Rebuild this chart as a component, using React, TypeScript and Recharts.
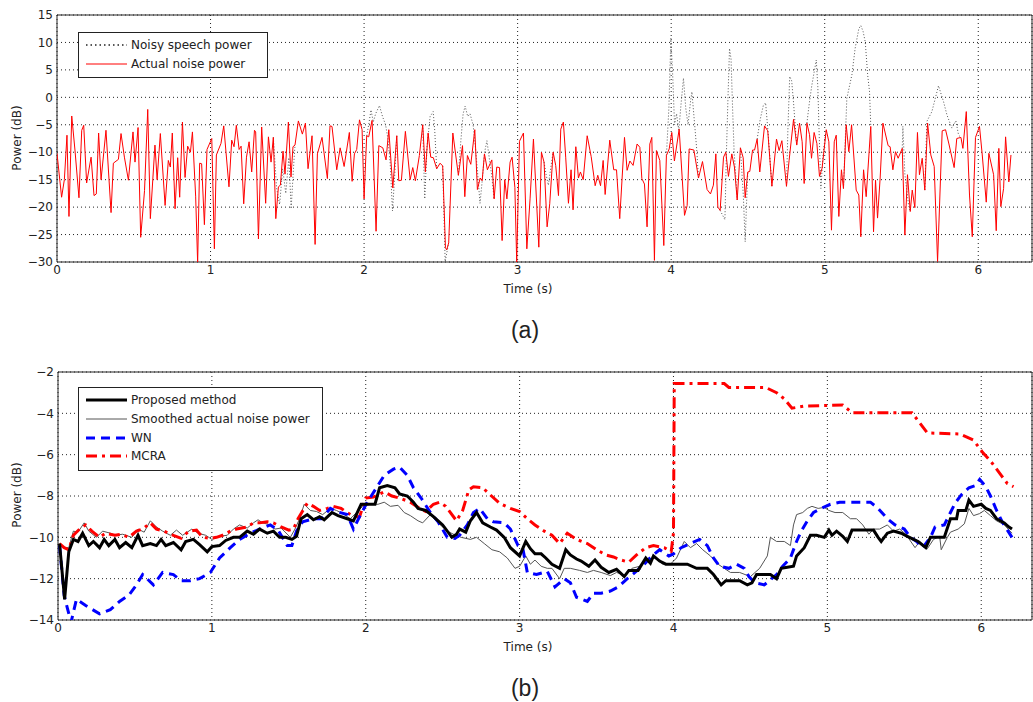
import { LineChart, Line, XAxis, YAxis, CartesianGrid, ReferenceArea } from 'recharts'

type Pt = [number, number | null]

const timeTicks = [0, 1, 2, 3, 4, 5, 6]
const powerTicksA = [15, 10, 5, 0, -5, -10, -15, -20, -25, -30]
const powerTicksB = [-2, -4, -6, -8, -10, -12, -14]

// (a) actual noise power, dB
const actualNoise: Pt[] = [
  [0, -10.2], [0.03, -18.2], [0.048, -15], [0.065, -6.9], [0.078, -21.7], [0.096, -3.4], [0.117, -9.6],
  [0.143, -18.3], [0.161, -6], [0.174, -5.1], [0.193, -15.6], [0.222, -10.9], [0.241, -17.9], [0.256, -17.6],
  [0.271, -6.5], [0.287, -15], [0.319, -6], [0.352, -21], [0.367, -12], [0.4, -11.3], [0.417, -6.6],
  [0.439, -10.9], [0.465, -15.1], [0.495, -6.3], [0.508, -11.8], [0.528, -5.5], [0.545, -25.5], [0.57, -17],
  [0.591, -2.2], [0.608, -22.1], [0.638, -8.7], [0.652, -15], [0.673, -6.6], [0.704, -19.7], [0.725, -11.5],
  [0.738, -12.7], [0.751, -6.5], [0.769, -20.3], [0.786, -11], [0.799, -18.2], [0.817, -4.5], [0.834, -14.6],
  [0.851, -8.9], [0.869, -10], [0.882, -6.3], [0.903, -18], [0.916, -30.2], [0.929, -12], [0.942, -12.1],
  [0.96, -23.2], [0.977, -9.5], [1.008, -7.5], [1.025, -27.6], [1.038, -10.5], [1.068, -8.4], [1.086, -5.2],
  [1.12, -16.3], [1.138, -7.8], [1.153, -9], [1.168, -5.1], [1.186, -9.5], [1.199, -8.9], [1.216, -19.4],
  [1.234, -10.9], [1.251, -8.1], [1.268, -13.6], [1.286, -6], [1.294, -6.3], [1.312, -25.8], [1.333, -5.4],
  [1.359, -19.3], [1.377, -7.2], [1.394, -11.8], [1.409, -7.3], [1.425, -22.1], [1.442, -16.3], [1.455, -16],
  [1.472, -9.8], [1.485, -14], [1.507, -4.5], [1.524, -14.5], [1.537, -9], [1.55, -8.7], [1.572, -4.3],
  [1.598, -6.7], [1.618, -4.7], [1.635, -13], [1.661, -7], [1.681, -26.8], [1.696, -10.3], [1.726, -7.3],
  [1.761, -14.8], [1.778, -5.2], [1.791, -5.3], [1.822, -13.2], [1.844, -9.2], [1.87, -12.6], [1.904, -6.4],
  [1.922, -15.3], [1.937, -10.3], [1.952, -9.5], [1.97, -4.1], [1.987, -5.9], [2.0, -18.5], [2.017, -7],
  [2.03, -7.2], [2.052, -4.2], [2.078, -24.4], [2.096, -8.8], [2.122, -9.2], [2.143, -11.4], [2.161, -5.9],
  [2.187, -16.5], [2.213, -7], [2.226, -15.2], [2.243, -15.1], [2.269, -6.2], [2.3, -15], [2.317, -12.8],
  [2.334, -15.2], [2.36, -10.6], [2.382, -5], [2.399, -13.6], [2.417, -6.5], [2.434, -10.9], [2.451, -11],
  [2.473, -13], [2.495, -12], [2.512, -12.5], [2.53, -27.4], [2.538, -27.8], [2.551, -26.5], [2.578, -6.5],
  [2.614, -14.2], [2.641, -8.8], [2.656, -18.1], [2.673, -10.6], [2.695, -12.2], [2.721, -5.9], [2.738, -16.8],
  [2.756, -14.7], [2.769, -15.2], [2.784, -10.3], [2.803, -13.2], [2.832, -11.4], [2.847, -18.5], [2.864, -12.7],
  [2.882, -12.8], [2.899, -26.1], [2.916, -15], [2.93, -18.5], [2.951, -11.8], [2.964, -10.9], [2.982, -16.4],
  [2.994, -30], [3.012, -8], [3.038, -6.5], [3.06, -27.6], [3.081, -18.5], [3.103, -7.6], [3.138, -27.3],
  [3.155, -10], [3.172, -11.8], [3.192, -23.6], [3.209, -19.4], [3.231, -10], [3.248, -12.4], [3.266, -17.9],
  [3.281, -5.8], [3.298, -4.5], [3.313, -10.9], [3.331, -19.3], [3.348, -13.2], [3.361, -20.5], [3.379, -9],
  [3.396, -14.7], [3.409, -13.6], [3.427, -15], [3.453, -7], [3.479, -10.8], [3.505, -16.1], [3.522, -14.2],
  [3.54, -16.1], [3.557, -11.5], [3.57, -17.7], [3.6, -7.8], [3.626, -13.2], [3.644, -13.2], [3.665, -22.1],
  [3.696, -7.3], [3.713, -13.3], [3.731, -11.6], [3.752, -12.4], [3.778, -8.5], [3.796, -9.1], [3.809, -14.8],
  [3.826, -15.8], [3.843, -23.6], [3.861, -8.5], [3.874, -7.3], [3.891, -29.7], [3.904, -9.7], [3.926, -11.5],
  [3.952, -27], [3.969, -10.6], [3.987, -9.4], [4.004, -6.4], [4.021, -11.6], [4.052, -5.8], [4.087, -21.5],
  [4.104, -19.7], [4.117, -9.4], [4.148, -9.6], [4.178, -14.7], [4.204, -11.7], [4.234, -16.8], [4.256, -17.6],
  [4.275, -16], [4.291, -10.3], [4.304, -20], [4.319, -20.6], [4.341, -10.9], [4.356, -10], [4.373, -14.4],
  [4.395, -10.3], [4.412, -12.7], [4.43, -18.7], [4.451, -9.2], [4.469, -11], [4.482, -18.3], [4.499, -13.6],
  [4.512, -13.5], [4.53, -9.6], [4.543, -9.6], [4.56, -7.6], [4.577, -13.6], [4.608, -5.2], [4.629, -6.1],
  [4.656, -16.2], [4.686, -7.6], [4.703, -9.7], [4.721, -7.9], [4.751, -16.2], [4.768, -11.5], [4.797, -4],
  [4.818, -8.7], [4.836, -4.7], [4.853, -8.1], [4.866, -15.7], [4.884, -4.7], [4.901, -6.8], [4.914, -11.1],
  [4.931, -6.4], [4.949, -8.4], [4.966, -14.4], [4.983, -12.9], [5.01, -5.9], [5.027, -8.1], [5.044, -24.2],
  [5.062, -8.1], [5.075, -6.9], [5.092, -21.7], [5.109, -13.2], [5.122, -16.6], [5.14, -5], [5.157, -9.9],
  [5.175, -5], [5.205, -16.9], [5.222, -17.8], [5.235, -25.4], [5.253, -13.2], [5.27, -18.1], [5.3, -5.3],
  [5.318, -24.5], [5.331, -15.1], [5.344, -22], [5.361, -14.7], [5.379, -4.7], [5.413, -8.8], [5.426, -9],
  [5.444, -13.2], [5.461, -9.9], [5.478, -11.1], [5.505, -9.3], [5.522, -25.1], [5.539, -14.1], [5.557, -20.8],
  [5.57, -16.9], [5.587, -20.1], [5.604, -6.4], [5.617, -14.1], [5.635, -11.1], [5.652, -16.9], [5.67, -4.7],
  [5.691, -10.5], [5.713, -12.6], [5.735, -29.9], [5.765, -6.1], [5.787, -5.9], [5.809, -8.5], [5.843, -12.8],
  [5.86, -7.5], [5.887, -7.3], [5.9, -9.3], [5.922, -2.6], [5.943, -17.8], [5.961, -25.4], [5.982, -7.3],
  [6.008, -5.3], [6.026, -10.5], [6.052, -19.1], [6.069, -10.2], [6.1, -14.1], [6.117, -24.3], [6.134, -9.3],
  [6.147, -19.9], [6.165, -16.6], [6.178, -7.2], [6.199, -15.4], [6.213, -10.5],
]

// (a) noisy speech power, only where it departs from the noise (null = gap)
const noisySpeech: Pt[] = [
  [1.409, -7.3], [1.43, -16.5], [1.45, -19.5], [1.47, -13], [1.49, -17.5], [1.51, -11], [1.525, -20.3],
  [1.54, -13], [1.55, -8.7], [1.56, null],
  [2.017, -7], [2.03, -5], [2.045, -2.3], [2.06, -4.5], [2.075, -3], [2.1, -1.5], [2.12, -3.5], [2.14, -5],
  [2.155, -7.5], [2.17, -12], [2.185, -20.7], [2.2, -14], [2.213, -7], [2.22, null],
  [2.382, -5], [2.395, -18.5], [2.41, -9], [2.43, -3.5], [2.45, -2.6], [2.46, -6], [2.473, -13], [2.48, null],
  [2.512, -12.5], [2.528, -29.9], [2.551, -26.5], [2.56, null],
  [2.614, -14.2], [2.63, -8], [2.645, -3], [2.658, -1.6], [2.675, -3.5], [2.69, -3], [2.71, -5], [2.725, -9],
  [2.74, -14], [2.755, -19.3], [2.77, -15], [2.785, -10], [2.8, -7.9], [2.815, -11], [2.83, -14], [2.847, -18.5],
  [2.86, null],
  [3.172, -11.8], [3.185, -14], [3.2, -16], [3.215, -13], [3.231, -10], [3.24, null],
  [3.969, -10.6], [3.985, -2], [3.998, 10.8], [4.01, 4], [4.022, -5], [4.035, -3], [4.05, -6], [4.065, -1],
  [4.08, 3.5], [4.095, -2], [4.11, -5], [4.125, -1], [4.135, 1], [4.15, -4], [4.165, -9], [4.178, -14.7],
  [4.19, null],
  [4.319, -20.6], [4.35, -22.3], [4.36, -10], [4.37, 0], [4.38, 8.9], [4.39, 7], [4.4, -2], [4.41, -10],
  [4.42, -14], [4.43, -18.7], [4.44, null],
  [4.451, -9.2], [4.47, -18], [4.482, -26.3], [4.49, -20], [4.499, -13.6], [4.505, null],
  [4.56, -7.6], [4.58, -4], [4.6, -1.5], [4.615, -1], [4.63, -6], [4.656, -16.2], [4.665, null],
  [4.751, -16.2], [4.76, -6], [4.772, 3.8], [4.785, 3], [4.797, -1], [4.81, -6], [4.818, -8.7], [4.825, null],
  [4.884, -4.7], [4.9, -1], [4.915, 2], [4.945, 6.8], [4.955, 2], [4.962, -5], [4.975, -16.6], [4.99, -10],
  [5.01, -5.9], [5.02, null],
  [5.122, -16.6], [5.144, -0.2], [5.177, 4.1], [5.198, 8.9], [5.222, 12.5], [5.235, 13.1], [5.25, 12],
  [5.264, 10.1], [5.28, 4], [5.292, 1], [5.3, -5.3], [5.31, null],
  [5.505, -9.3], [5.509, -5.3], [5.522, -14], [5.546, -19.6], [5.557, -20.8], [5.565, null],
  [5.652, -16.9], [5.665, -4.4], [5.698, -2.6], [5.741, 2.1], [5.774, -0.8], [5.796, -3.2], [5.828, -5.6],
  [5.854, -4.3], [5.872, -6.9], [5.887, -7.3],
]

// (b) estimates, dB
const proposed: Pt[] = [
  [0.01, -10.3], [0.043, -13.0], [0.07, -10.7], [0.1, -10.1], [0.13, -10.2], [0.16, -9.8], [0.2, -10.4],
  [0.23, -10.2], [0.27, -10.5], [0.3, -10.1], [0.33, -10.4], [0.37, -10.1], [0.4, -10.5], [0.44, -10.25],
  [0.48, -10.5], [0.52, -9.9], [0.55, -10.4], [0.6, -10.3], [0.64, -10.4], [0.67, -10.1], [0.7, -10.4],
  [0.75, -10.25], [0.8, -10.6], [0.83, -10.2], [0.88, -10.1], [0.92, -10.35], [0.97, -10.7], [1.0, -10.45],
  [1.05, -10.4], [1.09, -10.15], [1.14, -10.0], [1.18, -10.0], [1.23, -9.7], [1.27, -9.85], [1.31, -9.6],
  [1.36, -9.8], [1.4, -9.7], [1.44, -10.0], [1.48, -10.0], [1.52, -10.1], [1.55, -9.95], [1.58, -9.1],
  [1.62, -8.9], [1.66, -9.15], [1.7, -9.0], [1.73, -9.15], [1.78, -8.8], [1.82, -8.95], [1.88, -9.1],
  [1.92, -9.2], [1.97, -8.4], [2.02, -8.4], [2.06, -8.4], [2.09, -7.6], [2.14, -7.5], [2.19, -7.6],
  [2.22, -7.9], [2.27, -8.0], [2.31, -8.3], [2.34, -8.6], [2.39, -8.7], [2.44, -9.0], [2.5, -9.4],
  [2.56, -10.0], [2.59, -9.85], [2.61, -9.6], [2.65, -9.75], [2.68, -9.2], [2.72, -8.8], [2.76, -9.3],
  [2.81, -9.5], [2.85, -9.65], [2.9, -10.0], [2.94, -10.5], [3.0, -10.9], [3.04, -10.2], [3.07, -10.55],
  [3.1, -10.8], [3.14, -10.8], [3.17, -11.0], [3.21, -11.3], [3.26, -11.5], [3.3, -10.6], [3.33, -10.85],
  [3.37, -11.05], [3.4, -11.15], [3.45, -11.4], [3.49, -11.1], [3.53, -11.45], [3.58, -11.7], [3.63, -11.55],
  [3.68, -11.9], [3.71, -11.6], [3.77, -11.6], [3.82, -11.0], [3.85, -11.25], [3.87, -10.9], [3.91, -11.15],
  [3.95, -11.3], [4.0, -11.3], [4.09, -11.3], [4.15, -11.5], [4.22, -11.5], [4.26, -11.8], [4.31, -12.3],
  [4.34, -12.1], [4.43, -12.1], [4.48, -12.3], [4.51, -12.2], [4.54, -11.8], [4.63, -11.8], [4.67, -12.0],
  [4.7, -11.5], [4.74, -11.45], [4.78, -11.4], [4.8, -10.9], [4.85, -10.5], [4.89, -9.9], [4.93, -9.9],
  [4.98, -10.0], [5.01, -9.65], [5.03, -9.9], [5.06, -9.7], [5.1, -9.95], [5.13, -10.2], [5.16, -9.65],
  [5.3, -9.65], [5.33, -10.0], [5.35, -10.2], [5.39, -9.8], [5.43, -9.7], [5.48, -9.8], [5.52, -9.95],
  [5.56, -10.1], [5.59, -10.2], [5.64, -10.5], [5.67, -10.0], [5.76, -10.0], [5.8, -9.1], [5.84, -9.1],
  [5.85, -8.7], [5.9, -8.7], [5.92, -8.2], [5.95, -8.5], [6.0, -8.4], [6.03, -8.6], [6.06, -8.7],
  [6.1, -9.1], [6.15, -9.3], [6.18, -9.5], [6.2, -9.6],
]

const smoothedNoise: Pt[] = [
  [0.01, -10.3], [0.04, -10.5], [0.07, -10.5], [0.1, -9.7], [0.13, -9.75], [0.17, -9.3], [0.2, -9.7],
  [0.25, -10.0], [0.29, -9.7], [0.34, -9.8], [0.37, -9.9], [0.42, -9.85], [0.48, -10.0], [0.52, -9.6],
  [0.56, -9.75], [0.6, -9.2], [0.64, -9.5], [0.68, -9.7], [0.73, -9.9], [0.77, -9.65], [0.81, -9.9],
  [0.87, -9.6], [0.91, -9.8], [0.96, -9.9], [1.0, -10.1], [1.05, -9.95], [1.1, -9.9], [1.14, -9.6],
  [1.18, -9.4], [1.23, -9.55], [1.27, -9.3], [1.3, -9.15], [1.33, -9.3], [1.38, -9.4], [1.41, -9.6],
  [1.45, -9.55], [1.51, -10.0], [1.54, -9.6], [1.57, -9.1], [1.6, -8.4], [1.64, -8.7], [1.68, -8.75],
  [1.72, -8.9], [1.77, -8.6], [1.81, -8.7], [1.85, -8.85], [1.9, -9.1], [1.94, -8.8], [1.98, -8.5],
  [2.03, -8.4], [2.08, -8.4], [2.12, -8.3], [2.16, -8.5], [2.21, -8.45], [2.25, -8.8], [2.29, -8.95],
  [2.34, -9.2], [2.37, -9.3], [2.42, -8.9], [2.47, -9.3], [2.53, -9.7], [2.57, -9.85], [2.62, -10.0],
  [2.68, -10.1], [2.72, -10.0], [2.77, -10.3], [2.82, -10.6], [2.87, -10.7], [2.92, -11.0], [2.97, -11.5],
  [3.0, -11.4], [3.04, -10.9], [3.07, -11.3], [3.1, -11.1], [3.14, -11.4], [3.18, -11.5], [3.21, -11.5],
  [3.26, -12.0], [3.29, -11.5], [3.33, -11.5], [3.39, -11.6], [3.44, -11.7], [3.48, -11.6], [3.53, -11.7],
  [3.59, -11.85], [3.63, -11.7], [3.69, -11.85], [3.73, -11.5], [3.78, -11.4], [3.82, -11.1], [3.88, -11.0],
  [3.93, -11.3], [3.98, -11.3], [4.02, -11.0], [4.07, -10.2], [4.11, -10.5], [4.15, -10.3], [4.19, -10.6],
  [4.24, -10.9], [4.29, -11.3], [4.33, -11.5], [4.37, -11.7], [4.43, -11.7], [4.5, -11.9], [4.53, -11.7],
  [4.56, -11.5], [4.61, -10.9], [4.63, -10.0], [4.67, -10.2], [4.72, -10.2], [4.76, -10.4], [4.78, -9.4],
  [4.8, -8.9], [4.84, -8.8], [4.87, -8.6], [4.9, -8.5], [4.94, -8.6], [4.98, -8.55], [5.01, -8.7],
  [5.05, -8.8], [5.1, -8.8], [5.15, -9.1], [5.19, -9.1], [5.23, -9.4], [5.27, -9.85], [5.3, -9.6],
  [5.34, -9.6], [5.39, -9.4], [5.43, -9.7], [5.47, -9.6], [5.51, -9.85], [5.57, -10.5], [5.6, -10.2],
  [5.65, -10.55], [5.69, -10.1], [5.73, -9.95], [5.74, -10.6], [5.78, -10.0], [5.8, -9.75], [5.85, -9.6],
  [5.89, -9.35], [5.92, -8.6], [5.95, -8.95], [5.99, -8.85], [6.02, -8.7], [6.06, -8.95], [6.1, -9.2],
  [6.15, -9.4], [6.2, -9.8],
]

const wn: Pt[] = [
  [0.01, -10.4], [0.04, -12.8], [0.06, -13.4], [0.085, -14.1], [0.12, -13.0], [0.18, -13.3], [0.27, -13.7],
  [0.34, -13.5], [0.4, -13.1], [0.46, -12.8], [0.51, -12.3], [0.55, -11.8], [0.62, -12.3], [0.68, -11.7],
  [0.75, -11.8], [0.8, -12.1], [0.86, -12.1], [0.92, -12.0], [0.99, -11.7], [1.05, -11.0], [1.12, -10.5],
  [1.18, -10.1], [1.25, -9.8], [1.31, -9.6], [1.38, -9.4], [1.43, -9.65], [1.49, -10.4], [1.52, -10.4],
  [1.55, -9.7], [1.59, -9.25], [1.66, -9.1], [1.71, -9.1], [1.77, -8.6], [1.81, -8.75], [1.88, -8.9],
  [1.92, -9.6], [1.96, -9.0], [2.01, -8.3], [2.07, -7.6], [2.12, -7.0], [2.18, -6.7], [2.22, -6.6],
  [2.27, -7.0], [2.31, -7.6], [2.36, -8.1], [2.42, -8.8], [2.47, -9.25], [2.53, -10.0], [2.58, -10.05],
  [2.61, -9.9], [2.66, -9.4], [2.7, -8.8], [2.74, -8.6], [2.79, -9.1], [2.83, -9.25], [2.9, -9.3],
  [2.94, -9.6], [2.99, -10.4], [3.02, -10.5], [3.05, -11.7], [3.11, -11.8], [3.18, -11.65], [3.23, -12.4],
  [3.29, -12.0], [3.33, -12.2], [3.37, -12.9], [3.44, -13.1], [3.48, -12.7], [3.53, -12.7], [3.59, -12.6],
  [3.64, -12.4], [3.7, -12.0], [3.75, -11.7], [3.81, -11.3], [3.86, -10.9], [3.91, -10.6], [3.97, -10.9],
  [4.0, -10.8], [4.05, -10.5], [4.11, -10.3], [4.17, -10.1], [4.22, -10.4], [4.26, -11.0], [4.3, -11.4],
  [4.36, -11.5], [4.41, -11.3], [4.46, -11.5], [4.49, -11.9], [4.53, -12.2], [4.59, -12.3], [4.63, -12.05],
  [4.67, -11.8], [4.71, -11.4], [4.76, -11.0], [4.8, -10.2], [4.83, -9.7], [4.87, -9.2], [4.91, -8.8],
  [4.96, -8.6], [5.02, -8.4], [5.08, -8.3], [5.28, -8.3], [5.33, -8.6], [5.39, -9.1], [5.44, -9.4],
  [5.5, -9.6], [5.54, -10.0], [5.58, -10.2], [5.62, -10.5], [5.67, -10.0], [5.7, -9.5], [5.76, -9.4],
  [5.8, -8.8], [5.83, -8.35], [5.87, -7.95], [5.92, -7.6], [5.96, -7.5], [5.99, -7.2], [6.03, -7.55],
  [6.06, -8.0], [6.1, -8.7], [6.14, -9.3], [6.2, -10.0],
]

const mcra: Pt[] = [
  [0.01, -10.3], [0.04, -10.5], [0.07, -10.6], [0.1, -9.9], [0.14, -9.6], [0.18, -9.4], [0.22, -9.7],
  [0.27, -10.0], [0.31, -9.8], [0.37, -9.9], [0.41, -9.85], [0.46, -10.0], [0.51, -9.7], [0.55, -9.6],
  [0.6, -9.3], [0.64, -9.6], [0.69, -9.7], [0.75, -9.9], [0.8, -10.05], [0.85, -9.7], [0.9, -9.65],
  [0.94, -10.0], [0.99, -10.05], [1.03, -10.0], [1.07, -9.9], [1.12, -9.7], [1.16, -9.6], [1.23, -9.5],
  [1.27, -9.3], [1.31, -9.3], [1.36, -9.25], [1.4, -9.3], [1.45, -9.5], [1.5, -9.65], [1.53, -9.6],
  [1.56, -9.1], [1.62, -8.35], [1.66, -8.5], [1.7, -8.7], [1.75, -8.6], [1.79, -8.5], [1.84, -8.6],
  [1.88, -8.8], [1.92, -9.0], [1.96, -9.0], [2.0, -8.1], [2.05, -8.05], [2.12, -7.8], [2.17, -8.0],
  [2.22, -8.1], [2.29, -8.3], [2.35, -8.6], [2.39, -8.75], [2.44, -8.4], [2.48, -8.3], [2.52, -8.5],
  [2.59, -9.2], [2.63, -8.7], [2.67, -7.7], [2.7, -7.55], [2.76, -7.6], [2.81, -7.95], [2.87, -8.35],
  [2.94, -8.6], [3.0, -8.75], [3.05, -9.1], [3.1, -9.4], [3.16, -9.7], [3.21, -9.9], [3.26, -10.3],
  [3.31, -9.8], [3.37, -10.1], [3.44, -10.3], [3.5, -10.6], [3.56, -10.85], [3.61, -10.95], [3.66, -11.1],
  [3.71, -11.2], [3.76, -10.85], [3.82, -10.5], [3.87, -10.4], [3.94, -10.5], [3.985, -10.7], [4.0, -9.8],
  [4.005, -2.56], [4.33, -2.56], [4.36, -2.75], [4.6, -2.75], [4.67, -3.0], [4.72, -3.3], [4.77, -3.75],
  [4.85, -3.65], [5.1, -3.6], [5.16, -3.97], [5.55, -3.97], [5.65, -4.95], [5.86, -5.0], [5.95, -5.3],
  [6.01, -5.9], [6.06, -6.3], [6.13, -7.0], [6.17, -7.4], [6.21, -7.55],
]

const toRows = (pts: Pt[]) => pts.map(([t, v]) => ({ t, v }))
const fmtPower = (v: number) => (v < 0 ? `\u2212${-v}` : `${v}`)

const FONT = '"DejaVu Sans", sans-serif'
const tickStyle = { fontSize: 12, fill: '#222', fontFamily: FONT }

interface LegendRow {
  label: string
  stroke: string
  width: number
  dash?: string
}

function LegendBox({ left, top, width, rows }: { left: number; top: number; width: number; rows: LegendRow[] }) {
  return (
    <div
      style={{
        position: 'absolute',
        left,
        top,
        width,
        padding: '3px 0 4px',
        border: '1px solid #222',
        background: '#fff',
        fontFamily: FONT,
        fontSize: 12,
        color: '#222',
        boxSizing: 'border-box',
      }}
    >
      {rows.map((r) => (
        <div key={r.label} style={{ display: 'flex', alignItems: 'center', height: 18.7 }}>
          <svg width={52} height={12} style={{ flex: 'none' }}>
            <line x1={7} x2={48} y1={6} y2={6} stroke={r.stroke} strokeWidth={r.width} strokeDasharray={r.dash} />
          </svg>
          <span style={{ whiteSpace: 'nowrap' }}>{r.label}</span>
        </div>
      ))}
    </div>
  )
}

function AxisText({ x, y, text, rotate, size = 12, family = FONT }: { x: number; y: number; text: string; rotate?: boolean; size?: number; family?: string }) {
  return (
    <div
      style={{
        position: 'absolute',
        left: x,
        top: y,
        transform: `translate(-50%, -50%)${rotate ? ' rotate(-90deg)' : ''}`,
        fontFamily: family,
        fontSize: size,
        color: '#222',
        whiteSpace: 'nowrap',
        lineHeight: 1,
      }}
    >
      {text}
    </div>
  )
}

export default function App() {
  return (
    <div style={{ position: 'absolute', left: 0, top: 0, width: 1033, height: 702, background: '#fff', overflow: 'hidden' }}>
      <div style={{ position: 'absolute', left: 0, top: 0 }}>
        <LineChart width={1033} height={300} margin={{ top: 15, right: 1, bottom: 8, left: 7 }}>
          <CartesianGrid stroke="#222" strokeDasharray="1 3" />
          <XAxis
            dataKey="t"
            type="number"
            domain={[0, 6.35]}
            ticks={timeTicks}
            allowDataOverflow
            axisLine={false}
            tickLine={false}
            tickSize={0}
            tickMargin={3}
            height={30}
            tick={tickStyle}
          />
          <YAxis
            type="number"
            domain={[-30, 15]}
            ticks={powerTicksA}
            allowDataOverflow
            axisLine={false}
            tickLine={false}
            tickSize={0}
            tickMargin={4}
            width={50}
            tick={tickStyle}
            tickFormatter={fmtPower}
          />
          <Line data={toRows(noisySpeech)} dataKey="v" stroke="#555" strokeWidth={1} strokeDasharray="1 2" dot={false} isAnimationActive={false} />
          <Line data={toRows(actualNoise)} dataKey="v" stroke="#ff0000" strokeWidth={1} dot={false} isAnimationActive={false} />
          <ReferenceArea x1={0} x2={6.35} y1={-30} y2={15} fill="none" fillOpacity={0} stroke="#222" strokeWidth={1} />
        </LineChart>
      </div>

      <div style={{ position: 'absolute', left: 0, top: 357 }}>
        <LineChart width={1033} height={300} margin={{ top: 15, right: 1, bottom: 7, left: 8 }}>
          <CartesianGrid stroke="#222" strokeDasharray="1 3" />
          <XAxis
            dataKey="t"
            type="number"
            domain={[0, 6.33]}
            ticks={timeTicks}
            allowDataOverflow
            axisLine={false}
            tickLine={false}
            tickSize={0}
            tickMargin={3}
            height={30}
            tick={tickStyle}
          />
          <YAxis
            type="number"
            domain={[-14, -2]}
            ticks={powerTicksB}
            allowDataOverflow
            axisLine={false}
            tickLine={false}
            tickSize={0}
            tickMargin={4}
            width={50}
            tick={tickStyle}
            tickFormatter={fmtPower}
          />
          <Line data={toRows(smoothedNoise)} dataKey="v" stroke="#555" strokeWidth={1} dot={false} isAnimationActive={false} />
          <Line data={toRows(mcra)} dataKey="v" stroke="#ff0000" strokeWidth={3} strokeDasharray="11 5 3 5" dot={false} isAnimationActive={false} />
          <Line data={toRows(wn)} dataKey="v" stroke="#0000ff" strokeWidth={3} strokeDasharray="9 6" dot={false} isAnimationActive={false} />
          <Line data={toRows(proposed)} dataKey="v" stroke="#000" strokeWidth={3} dot={false} isAnimationActive={false} />
          <ReferenceArea x1={0} x2={6.33} y1={-14} y2={-2} fill="none" fillOpacity={0} stroke="#222" strokeWidth={1} />
        </LineChart>
      </div>

      <LegendBox
        left={78}
        top={32}
        width={190}
        rows={[
          { label: 'Noisy speech power', stroke: '#222', width: 1.5, dash: '1.5 3' },
          { label: 'Actual noise power', stroke: '#ff0000', width: 1 },
        ]}
      />
      <LegendBox
        left={78}
        top={387}
        width={245}
        rows={[
          { label: 'Proposed method', stroke: '#000', width: 3 },
          { label: 'Smoothed actual noise power', stroke: '#555', width: 1 },
          { label: 'WN', stroke: '#0000ff', width: 3, dash: '9 6' },
          { label: 'MCRA', stroke: '#ff0000', width: 3, dash: '11 5 3 5' },
        ]}
      />

      <AxisText x={17} y={138} text="Power (dB)" rotate />
      <AxisText x={528} y={289} text="Time (s)" />
      <AxisText x={525} y={330} text="(a)" size={23} family='"Liberation Sans", Arial, sans-serif' />

      <AxisText x={17} y={495} text="Power (dB)" rotate />
      <AxisText x={528} y={647} text="Time (s)" />
      <AxisText x={525} y={688} text="(b)" size={23} family='"Liberation Sans", Arial, sans-serif' />
    </div>
  )
}
